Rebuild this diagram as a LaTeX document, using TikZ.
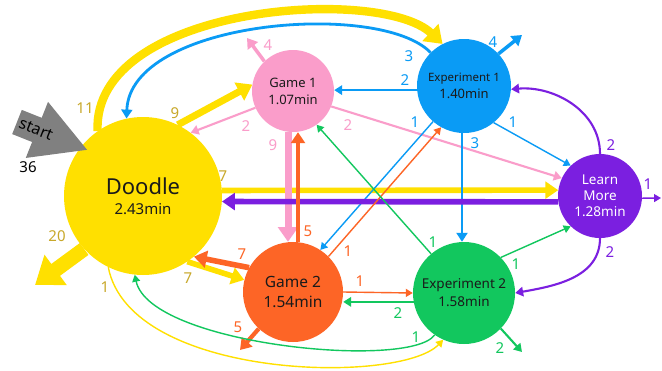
\documentclass[tikz,border=0pt]{standalone}
\usepackage{fontspec}
\setmainfont{Noto Sans}
\usetikzlibrary{arrows.meta}
\definecolor{doodleyellow}{HTML}{FFE000}
\definecolor{doodlegold}{HTML}{C8A82A}
\definecolor{gamepink}{HTML}{FA9DCA}
\definecolor{expblue}{HTML}{0A9BF5}
\definecolor{learnpurple}{HTML}{7B1FE0}
\definecolor{gameorange}{HTML}{FD6526}
\definecolor{expgreen}{HTML}{12C75E}
\definecolor{txtdark}{HTML}{1A1A1A}
\definecolor{startgray}{HTML}{808080}

\tikzset{
  station/.style={circle, inner sep=0pt, align=center, text=txtdark},
  flow/.style={line width={0.7pt*#1+0.7pt}, -{Triangle[length=5pt 1.4, width=5pt 2.1]}},
  num/.style={font=\fontsize{15}{18}\selectfont, inner sep=0pt},
}

\begin{document}
\begin{tikzpicture}[x=1pt, y=-1pt]
\useasboundingbox[fill=white] (0,0) rectangle (662,370);

% the six pages
\node[station, fill=doodleyellow, minimum size=158pt, font=\fontsize{15}{20}\selectfont] (doodle) at (143,196)
  {{\fontsize{22}{26}\selectfont Doodle}\\2.43min};
\node[station, fill=gamepink, minimum size=82pt, font=\fontsize{13}{17}\selectfont] (game1) at (293,91) {Game 1\\1.07min};
\node[station, fill=expblue, minimum size=94pt, font=\fontsize{13}{17}\selectfont] (exp1) at (464,86)
  {{\fontsize{11.5}{14}\selectfont Experiment 1}\\1.40min};
\node[station, fill=learnpurple, minimum size=84pt, text=white, font=\fontsize{13.5}{16}\selectfont] (learn) at (600,196) {Learn\\More\\1.28min};
\node[station, fill=gameorange, minimum size=100pt, font=\fontsize{15.5}{20}\selectfont] (game2) at (293,292) {Game 2\\1.54min};
\node[station, fill=expgreen, minimum size=102pt, font=\fontsize{13.5}{18}\selectfont] (exp2) at (464,293) {Experiment 2\\1.58min};

% exits
\coordinate (start-in) at (17,122);
\coordinate (doodle-out) at (35,285);
\coordinate (game1-out) at (247,38);
\coordinate (exp1-out) at (522,35);
\coordinate (learn-out) at (661,198);
\coordinate (game2-out) at (240,350);
\coordinate (exp2-out) at (522,352);

% start
\draw[startgray, line width=26pt, -{Triangle[length=55pt, width=56pt]}, shorten >=-8pt]
  (start-in) -- node[pos=0.3, sloped, text=black, inner sep=0pt, font=\fontsize{16}{18}\selectfont] (start-txt) {start} (doodle.142);
\node[num, text=black] (n-start) at (28,167) {36};

% from Doodle
\draw[flow=11, doodleyellow] (doodle.125) .. controls (92,5) and (380,-15) .. (exp1.117);
\draw[flow=9, doodleyellow] (doodle.64) -- (game1.171);
\draw[flow=7, doodleyellow] (doodle.4) -- (learn.172);
\draw[flow=7, doodleyellow] (doodle.-56) -- (game2.166);
\draw[flow=20, doodleyellow] (doodle.222) -- (doodle-out);
\draw[flow=1, doodleyellow] (doodle.244) .. controls (130,380) and (400,385) .. (exp2.246);

% from Game 1
\draw[flow=4, gamepink] (game1.134) -- (game1-out);
\draw[flow=2, gamepink] (game1.204) -- (doodle.53);
\draw[flow=2, gamepink] (game1.-22) -- (learn.155);
\draw[flow=9, gamepink] ([xshift=-5pt]game1.south) -- ([xshift=-5pt]game2.north);

% from Experiment 1
\draw[flow=3, expblue] (exp1.135) .. controls (380,0) and (130,20) .. (doodle.102);
\draw[flow=2, expblue] (exp1.185) -- (exp1.185 -| game1.east);
\draw[flow=4, expblue] (exp1.43) -- (exp1-out);
\draw[flow=1, expblue] (exp1.-51) -- (learn.134);
\draw[flow=1, expblue] (exp1.229) -- (game2.57);
\draw[flow=3, expblue] ([xshift=-2pt]exp1.south) -- ([xshift=-2pt]exp2.north);

% from Learn More
\draw[flow=7, learnpurple] (learn.188) -- (doodle.-4);
\draw[flow=2, learnpurple] (learn.90) to[out=90, in=5] (exp1.-4);
\draw[flow=1, learnpurple] (learn.-3) -- (learn-out);
\draw[flow=2, learnpurple] (learn.270) to[out=-90, in=10] (exp2.0);

% from Game 2
\draw[flow=5, gameorange] ([xshift=5pt]game2.north) -- ([xshift=5pt]game1.south);
\draw[flow=7, gameorange] (game2.151) -- (doodle.-50);
\draw[flow=1, gameorange] (game2.45) -- (exp1.241);
\draw[flow=1, gameorange] (game2.0) -- (exp2.180);
\draw[flow=5, gameorange] (game2.227) -- (game2-out);

% from Experiment 2
\draw[flow=1, expgreen] (exp2.130) -- (game1.-55);
\draw[flow=2, expgreen] (exp2.190) -- (exp2.190 -| game2.east);
\draw[flow=1, expgreen] (exp2.44) -- (learn.226);
\draw[flow=1, expgreen] (exp2.235) .. controls (410,370) and (150,345) .. (doodle.264);
\draw[flow=2, expgreen] (exp2.-44) -- (exp2-out);

% counts
\node[num, text=doodlegold] (n-d-e1) at (85,108) {11};
\node[num, text=doodlegold] (n-d-g1) at (175,113) {9};
\node[num, text=doodlegold] (n-d-lm) at (223,176) {7};
\node[num, text=doodlegold] (n-d-g2) at (188,278) {7};
\node[num, text=doodlegold] (n-d-out) at (57,236) {20};
\node[num, text=doodlegold] (n-d-e2) at (105,287) {1};
\node[num, text=gamepink] (n-g1-out) at (268,45) {4};
\node[num, text=gamepink] (n-g1-d) at (246,126) {2};
\node[num, text=gamepink] (n-g1-lm) at (348,125) {2};
\node[num, text=gamepink] (n-g1-g2) at (273,145) {9};
\node[num, text=expblue] (n-e1-d) at (409,56) {3};
\node[num, text=expblue] (n-e1-g1) at (405,80) {2};
\node[num, text=expblue] (n-e1-out) at (493,42) {4};
\node[num, text=expblue] (n-e1-lm) at (513,122) {1};
\node[num, text=expblue] (n-e1-g2) at (415,122) {1};
\node[num, text=expblue] (n-e1-e2) at (475,143) {3};
\node[num, text=learnpurple] (n-lm-e1) at (611,145) {2};
\node[num, text=learnpurple] (n-lm-out) at (648,184) {1};
\node[num, text=learnpurple] (n-lm-e2) at (610,252) {2};
\node[num, text=gameorange] (n-g2-g1) at (308,231) {5};
\node[num, text=gameorange] (n-g2-d) at (242,254) {7};
\node[num, text=gameorange] (n-g2-e1) at (348,251) {1};
\node[num, text=gameorange] (n-g2-e2) at (360,281) {1};
\node[num, text=gameorange] (n-g2-out) at (238,327) {5};
\node[num, text=expgreen] (n-e2-g1) at (433,242) {1};
\node[num, text=expgreen] (n-e2-g2) at (398,313) {2};
\node[num, text=expgreen] (n-e2-lm) at (516,264) {1};
\node[num, text=expgreen] (n-e2-d) at (416,337) {1};
\node[num, text=expgreen] (n-e2-out) at (500,348) {2};
\end{tikzpicture}
\end{document}
